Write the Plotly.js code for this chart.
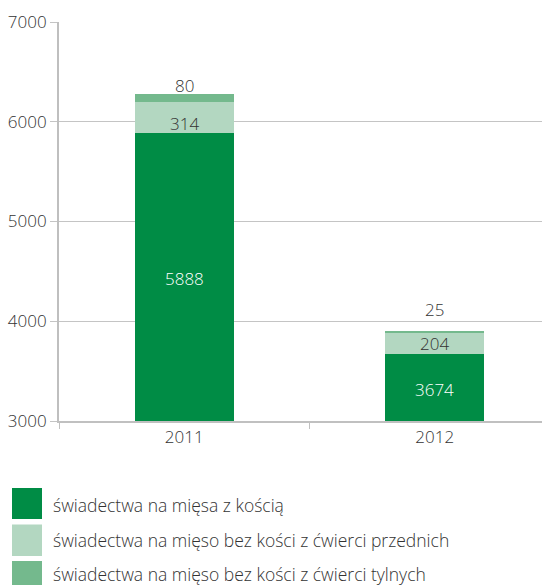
<!DOCTYPE html>
<html>
<head>
<meta charset="utf-8">
<script src="https://cdn.plot.ly/plotly-3.0.1.min.js"></script>
<style>html,body{margin:0;padding:0;background:#fff;}</style>
</head>
<body>
<div id="chart" style="width:542px;height:585px;"></div>
<script>
const years = ['2011', '2012'];
const seriesNames = [
  'świadectwa na mięsa z kością',
  'świadectwa na mięso bez kości z ćwierci przednich',
  'świadectwa na mięso bez kości z ćwierci tylnych'
];
const withBone = [5888, 3674];
const frontQuarter = [314, 204];
const hindQuarter = [80, 25];
const colors = ['#008c45', '#b3d7c1', '#74b98d'];
const yTicks = [3000, 4000, 5000, 6000, 7000];
const yMin = 3000, yMax = 7000;

// label pixel nudges (layout only)
const frontShift = [-6, 0];
const hindShift = [-5, 8];

const FONT = 'Open Sans, Noto Sans, sans-serif';
const FS = 17;
const W = 542, H = 585, L = 59, R = 0, T = 22, B = 164;
const pw = W - L - R, ph = H - T - B;
const px = p => (p - L) / pw;
const py = p => (H - B - p) / ph;

const values = [withBone, frontQuarter, hindQuarter];

const traces = values.map((v, i) => ({
  type: 'bar',
  name: seriesNames[i],
  x: years,
  y: v,
  width: 0.395,
  marker: {color: colors[i], line: {width: 0}},
  textposition: 'none',
  cliponaxis: false,
  hoverinfo: 'skip'
}));

const annotations = [];
const lab = (j, y, txt, color, shift, anchor) => ({
  x: j, y: y, xref: 'x', yref: 'y', yanchor: anchor || 'middle',
  text: txt, showarrow: false, yshift: shift,
  font: {family: FONT, size: FS, color: color, weight: 300}
});
years.forEach((yr, j) => {
  annotations.push(lab(j, (yMin + withBone[j]) / 2, String(withBone[j]), '#ffffff', -2));
  annotations.push(lab(j, withBone[j] + frontQuarter[j] / 2, String(frontQuarter[j]), '#333', frontShift[j]));
  const total = withBone[j] + frontQuarter[j] + hindQuarter[j];
  annotations.push(lab(j, total, String(hindQuarter[j]), '#333', hindShift[j], 'bottom'));
});

const shapes = [];
const sq = [[488, 519], [524.5, 556], [561, 592]];
seriesNames.forEach((n, i) => {
  shapes.push({type: 'rect', xref: 'paper', yref: 'paper',
    x0: px(12), x1: px(42), y0: py(sq[i][1]), y1: py(sq[i][0]),
    fillcolor: colors[i], line: {width: 0}});
  annotations.push({xref: 'paper', yref: 'paper', x: px(51), y: py([505, 540, 574][i]),
    xanchor: 'left', yanchor: 'middle', showarrow: false, text: n,
    font: {family: FONT, size: 17.5, color: '#333', weight: 300}});
});

const layout = {
  width: W, height: H,
  margin: {l: L, r: R, t: T, b: B, pad: 0},
  barmode: 'stack',
  showlegend: false,
  paper_bgcolor: '#fff', plot_bgcolor: '#fff',
  xaxis: {
    type: 'category', range: [-0.5, 1.428],
    showline: true, linecolor: '#c0c0c0', linewidth: 1.5,
    ticks: 'outside', tickson: 'boundaries', ticklen: 6, tickcolor: '#c0c0c0',
    showgrid: false, tickfont: {family: FONT, size: FS, color: '#333', weight: 300},
    fixedrange: true
  },
  yaxis: {
    range: [yMin, yMax], tickvals: yTicks, ticktext: yTicks.map(String),
    showline: true, linecolor: '#bfbfbf', linewidth: 2,
    showgrid: true, gridcolor: '#c4c4c4', gridwidth: 1.2,
    ticks: 'outside', ticklen: 7, tickcolor: '#c4c4c4',
    zeroline: false,
    tickfont: {family: FONT, size: FS, color: '#333', weight: 300},
    fixedrange: true
  },
  shapes: shapes,
  annotations: annotations
};

Plotly.newPlot('chart', traces, layout, {displayModeBar: false, staticPlot: true});
</script>
</body>
</html>
